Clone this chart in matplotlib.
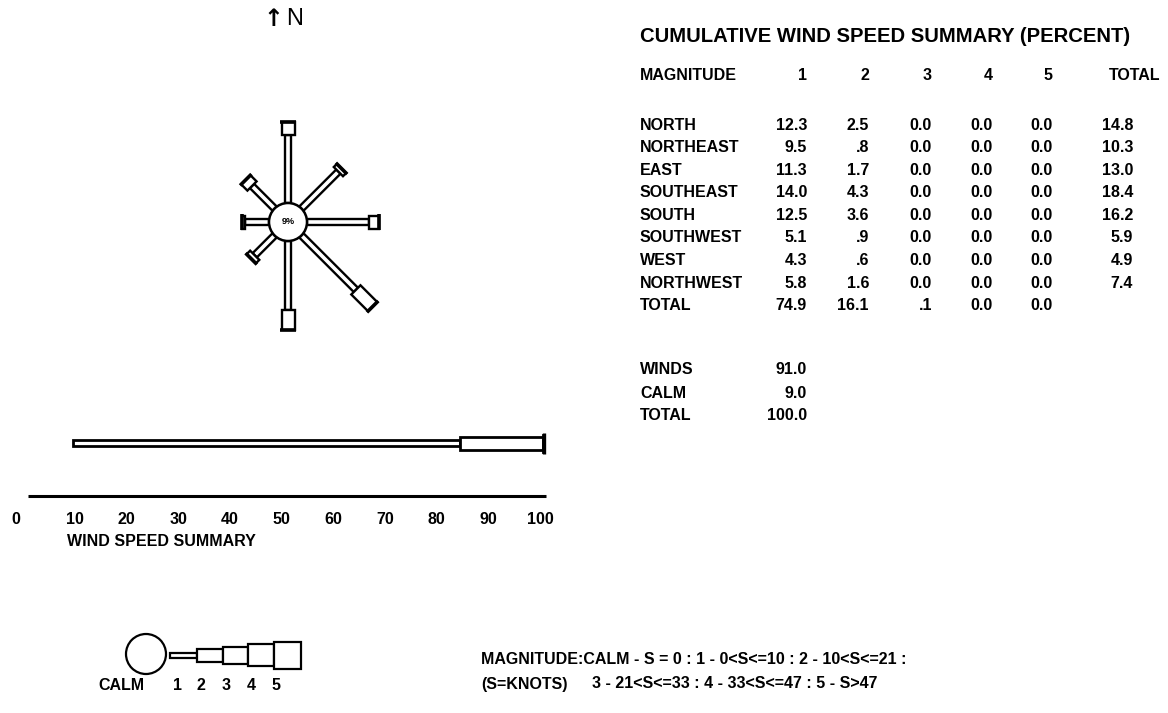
import matplotlib
matplotlib.use('Agg')
import matplotlib.pyplot as plt
import numpy as np
from matplotlib.patches import Polygon, Circle, Rectangle

plt.rcParams['font.family'] = ['Liberation Sans', 'DejaVu Sans']

# Data (percent)
directions = ["NORTH", "NORTHEAST", "EAST", "SOUTHEAST", "SOUTH", "SOUTHWEST", "WEST", "NORTHWEST"]
bearings = [0, 45, 90, 135, 180, 225, 270, 315]
mag1 = [12.3, 9.5, 11.3, 14.0, 12.5, 5.1, 4.3, 5.8]
mag2 = [2.5, 0.8, 1.7, 4.3, 3.6, 0.9, 0.6, 1.6]
mag3 = [0.0, 0.0, 0.0, 0.0, 0.0, 0.0, 0.0, 0.0]
mag4 = [0.0, 0.0, 0.0, 0.0, 0.0, 0.0, 0.0, 0.0]
mag5 = [0.0, 0.0, 0.0, 0.0, 0.0, 0.0, 0.0, 0.0]
dir_totals = [14.8, 10.3, 13.0, 18.4, 16.2, 5.9, 4.9, 7.4]
mag_totals = [74.9, 16.1, 0.1, 0.0, 0.0]
winds = 91.0
calm = 9.0
grand_total = 100.0
speed_ticks = [0, 10, 20, 30, 40, 50, 60, 70, 80, 90, 100]
magnitudes = ["1", "2", "3", "4", "5"]

W, H = 1168, 713
half_w = [3, 6.5, 8.5, 11, 13.5]   # half widths (px) of the magnitude bars
FS = 11.5


def fmt(v):
    s = f"{v:.1f}"
    if 0 < v < 1:
        s = s[1:]
    return s


fig = plt.figure(figsize=(W / 100, H / 100), dpi=100)
bg = fig.add_axes([0, 0, 1, 1])
bg.set_xlim(0, W)
bg.set_ylim(H, 0)
bg.axis('off')

# ---- wind rose ----
cx, cy, scale, half = 288, 222, 5.5, 130
rose = fig.add_axes([(cx - half) / W, (H - cy - half) / H, 2 * half / W, 2 * half / H])
lim = half / scale
rose.set_xlim(-lim, lim)
rose.set_ylim(-lim, lim)
rose.axis('off')
r_circle = 19 / scale

mags = np.array([mag1, mag2, mag3, mag4, mag5]).T
for b, vals in zip(bearings, mags):
    t = np.radians(b)
    u = np.array([np.sin(t), np.cos(t)])
    n = np.array([np.cos(t), -np.sin(t)])
    start = r_circle
    for k, v in enumerate(vals):
        if v <= 0:
            continue
        hw = half_w[k] / scale
        pts = [start * u + hw * n, (start + v) * u + hw * n,
               (start + v) * u - hw * n, start * u - hw * n]
        rose.add_patch(Polygon(pts, closed=True, facecolor='white', edgecolor='black', lw=1.7, zorder=2))
        start += v
    cap = 8 / scale
    p1, p2 = start * u + cap * n, start * u - cap * n
    rose.plot([p1[0], p2[0]], [p1[1], p2[1]], color='black', lw=2.6, solid_capstyle='butt', zorder=3)

rose.add_patch(Circle((0, 0), r_circle, facecolor='white', edgecolor='black', lw=1.8, zorder=4))
rose.text(0, 0, f"{calm:.0f}%", ha='center', va='center', fontsize=6.5, fontweight='bold', zorder=5)

bg.text(283, 19, "\u2191", ha='right', va='center', fontsize=17, fontweight='bold', family='DejaVu Sans')
bg.text(286, 19, "N", ha='left', va='center', fontsize=17)

# ---- wind speed summary bar ----
x0_px, px_per = 26.5, 5.165
bar = fig.add_axes([0, (H - 560) / H, 600 / W, 140 / H])
bar.set_xlim(-x0_px / px_per, (600 - x0_px) / px_per)
bar.set_ylim(560, 420)
bar.axis('off')
bar_y = 443
start = calm
for k, v in enumerate(mag_totals):
    if v <= 0:
        continue
    hw = half_w[k]
    bar.add_patch(Rectangle((start, bar_y - hw), v, 2 * hw, facecolor='white', edgecolor='black', lw=2.0))
    start += v
bar.vlines(start, bar_y - 10, bar_y + 11, color='black', lw=2.4)
bar.hlines(496, 0.3, 100.6, color='black', lw=2.2)
for v in speed_ticks:
    xl = v - 0.6 - (1.5 if v == 0 else 0)
    bar.text(xl, 519, str(v), ha='center', va='center', fontsize=FS, fontweight='bold')
bar.text(7.8, 541, "WIND SPEED SUMMARY", ha='left', va='center', fontsize=FS, fontweight='bold')

# ---- key ----
bg.add_patch(Circle((146, 654), 20, facecolor='white', edgecolor='black', lw=1.6))
key_edges = [170, 197, 223, 248, 274, 301]
for k in range(5):
    hw = half_w[k] if k > 0 else 2.5
    bg.add_patch(Rectangle((key_edges[k], 655 - hw), key_edges[k + 1] - key_edges[k], 2 * hw,
                           facecolor='white', edgecolor='black', lw=1.6))
bg.text(121, 685, "CALM", ha='center', va='center', fontsize=FS, fontweight='bold')
for lab, x in zip(magnitudes, [177, 201, 226, 251, 276]):
    bg.text(x, 685, lab, ha='center', va='center', fontsize=FS, fontweight='bold')

# ---- table ----
kw = dict(va='center', fontsize=FS, fontweight='bold')
bg.text(640, 37, "CUMULATIVE WIND SPEED SUMMARY (PERCENT)", ha='left', va='center',
        fontsize=14.6, fontweight='bold')
col_x = [807, 869, 932, 993, 1053]
tot_x = 1133
bg.text(640, 76, "MAGNITUDE", ha='left', **kw)
for lab, x in zip(magnitudes, col_x):
    bg.text(x, 76, lab, ha='right', **kw)
bg.text(1160, 76, "TOTAL", ha='right', **kw)

row_y = 125
step = 22.6
for i, name in enumerate(directions):
    y = row_y + i * step
    bg.text(640, y, name, ha='left', **kw)
    for x, v in zip(col_x, mags[i]):
        bg.text(x, y, fmt(v), ha='right', **kw)
    bg.text(tot_x, y, fmt(dir_totals[i]), ha='right', **kw)
y = row_y + len(directions) * step
bg.text(640, y, "TOTAL", ha='left', **kw)
for x, v in zip(col_x, mag_totals):
    bg.text(x, y, fmt(v), ha='right', **kw)

for lab, v, y in [("WINDS", winds, 370), ("CALM", calm, 393), ("TOTAL", grand_total, 415)]:
    bg.text(640, y, lab, ha='left', **kw)
    bg.text(col_x[0], y, fmt(v), ha='right', **kw)

# ---- footnote ----
bg.text(481, 660, "MAGNITUDE:CALM - S = 0 : 1 - 0<S<=10 : 2 - 10<S<=21 :", ha='left', **kw)
bg.text(481, 684, "(S=KNOTS)", ha='left', **kw)
bg.text(592, 684, "3 - 21<S<=33 : 4 - 33<S<=47 : 5 - S>47", ha='left', **kw)

fig.savefig("out.png", dpi=100, facecolor='white')
